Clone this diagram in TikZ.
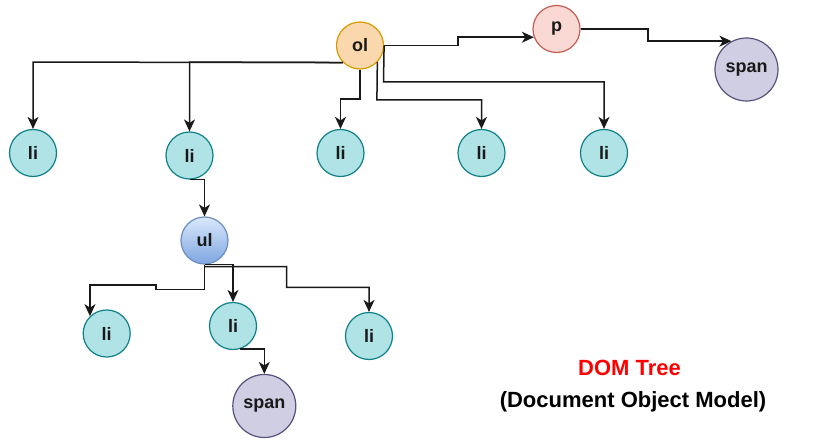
\documentclass[tikz,border=0pt]{standalone}
\usepackage{fontspec}
\setmainfont{Liberation Sans}
\usetikzlibrary{arrows.meta}
\definecolor{lifill}{HTML}{B0E3E6}
\definecolor{lidraw}{HTML}{0E8088}
\definecolor{olfill}{HTML}{FAD7AC}
\definecolor{oldraw}{HTML}{D79B00}
\definecolor{pfill}{HTML}{FAD9D5}
\definecolor{pdraw}{HTML}{C85C50}
\definecolor{spanfill}{HTML}{D0CEE2}
\definecolor{spandraw}{HTML}{56517E}
\definecolor{ultop}{HTML}{DAE8FC}
\definecolor{ulbot}{HTML}{7EA6E0}
\definecolor{uldraw}{HTML}{6C8EBF}
\definecolor{domred}{HTML}{FF0000}
\tikzset{
  x=1pt, y=-1pt,
  nodebase/.style={circle, inner sep=0pt, line width=1.2pt, minimum size=47pt,
    font=\fontsize{18}{21}\selectfont\bfseries, text=black!90},
  linode/.style={nodebase, fill=lifill, draw=lidraw},
  olnode/.style={nodebase, fill=olfill, draw=oldraw},
  pnode/.style={nodebase, fill=pfill, draw=pdraw},
  ulnode/.style={nodebase, top color=ultop, bottom color=ulbot, draw=uldraw},
  spannode/.style={nodebase, fill=spanfill, draw=spandraw, minimum size=63pt},
  conn/.style={line width=1.5pt, draw=black!90, -{Stealth[length=12pt,width=11pt,inset=3.5pt]}},
  titletext/.style={font=\fontsize{22}{26}\selectfont\bfseries}
}
\begin{document}
\begin{tikzpicture}
\useasboundingbox (0,0) rectangle (814,441);
% nodes
\node[olnode] (ol) at (360,45.5) {ol};
\node[pnode] (p) at (556.5,29) {p};
\node[spannode] (span1) at (746.5,69.5) {span};
\node[linode] (li1) at (33,153) {li};
\node[linode] (li2) at (189.5,155.5) {li};
\node[linode] (li3) at (340.5,153) {li};
\node[linode] (li4) at (481.5,153) {li};
\node[linode] (li5) at (604,153) {li};
\node[ulnode] (ul) at (204.5,240.5) {ul};
\node[linode] (li6) at (106.7,333.5) {li};
\node[linode] (li7) at (233,326) {li};
\node[linode] (li8) at (369,336) {li};
\node[spannode] (span2) at (264.3,406) {span};
\node[titletext, text=domred] (title1) at (629.5,368) {DOM Tree};
\node[titletext, text=black] (title2) at (633,401.5) {(Document Object Model)};
% connectors
\draw[conn] (ol.225) -- (33,62.1) -- (li1);
\draw[conn] (ol.225) -- (189.5,62.1) -- (li2);
\draw[conn] (ol.south) -- (360,99) -- (340.5,99) -- (li3);
\draw[conn] (ol.-44) -- (376.9,100) -- (481.5,100) -- (li4);
\draw[conn] (ol.east) -- (383.5,82) -- (604,82) -- (li5);
\draw[conn] (ol.east) -- (458,45.5) |- (p.200);
\draw[conn] (p.east) -- (648,29) |- (span1.118);
\draw[conn] (li2.south) -| (ul.north);
\draw[conn] (ul.south) -- (204.5,289.3) -- (156,289.3) -- (156,285) -| (li6.134);
\draw[conn] (ul.south) -| (li7.north);
\draw[conn] ([yshift=-2pt]ul.south) -- (286.7,266.5) -- (286.7,287.3) -| (li8.north);
\draw[conn] (li7.-73) -| (span2.north);
\end{tikzpicture}
\end{document}
